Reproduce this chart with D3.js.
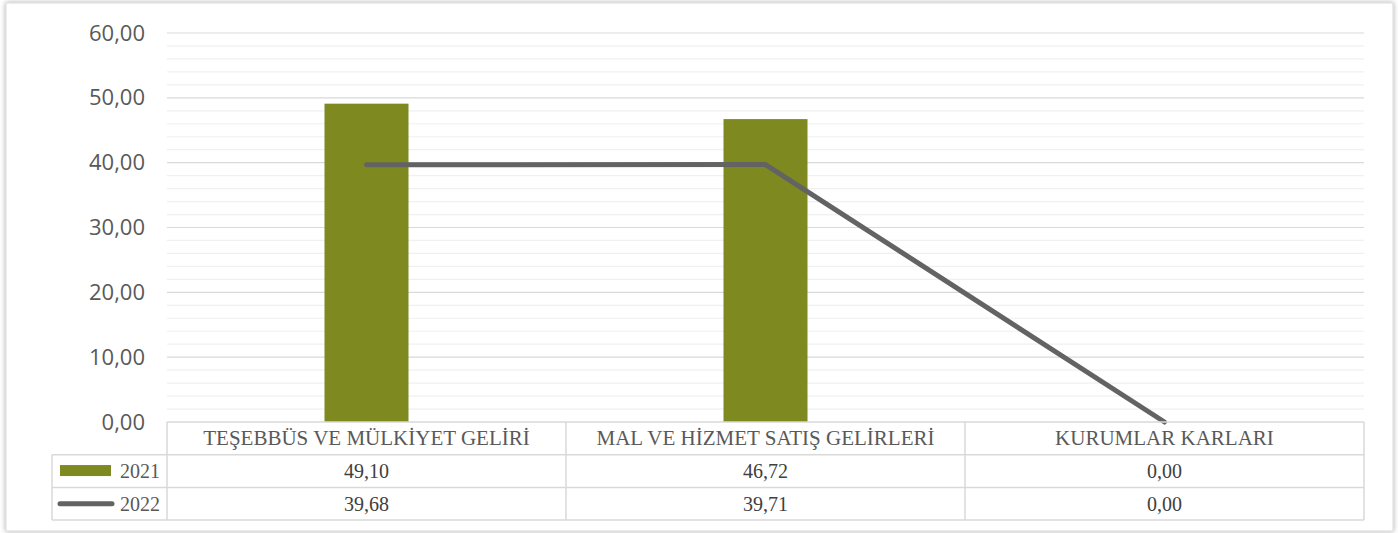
<!DOCTYPE html>
<html>
<head>
<meta charset="utf-8">
<script src="https://cdn.jsdelivr.net/npm/d3@7"></script>
<style>
  body { margin: 0; background: #fff; }
  svg { display: block; }
</style>
</head>
<body>
<div id="chart"></div>
<script>
const categories = ['TEŞEBBÜS VE MÜLKİYET GELİRİ', 'MAL VE HİZMET SATIŞ GELİRLERİ', 'KURUMLAR KARLARI'];
const values2021 = [49.10, 46.72, 0.00];
const values2022 = [39.68, 39.71, 0.00];
const seriesNames = ['2021', '2022'];
const yTicks = [0, 10, 20, 30, 40, 50, 60];

const fullWidth = 1398;
const fullHeight = 533;
const plot = { left: 167, right: 1364, top: 33, bottom: 422 };
const rowH = 32.7;
const barColor = '#7e891f';
const lineColor = '#636363';
const fmt = v => v.toFixed(2).replace('.', ',');

const svg = d3.select('#chart')
  .append('svg')
  .attr('width', fullWidth)
  .attr('height', fullHeight);

const defs = svg.append('defs');
const shadow = defs.append('filter').attr('id', 'shadow')
  .attr('x', '-2%').attr('y', '-2%').attr('width', '104%').attr('height', '104%');
shadow.append('feDropShadow')
  .attr('dx', 0).attr('dy', 0).attr('stdDeviation', 2.5)
  .attr('flood-color', '#000').attr('flood-opacity', 0.35);

// frame
svg.append('rect')
  .attr('x', 6).attr('y', 3)
  .attr('width', 1387).attr('height', 528)
  .attr('fill', '#fff')
  .attr('stroke', '#d9d9d9')
  .attr('filter', 'url(#shadow)');

const xScale = d3.scaleBand()
  .domain(categories)
  .range([plot.left, plot.right]);

const yScale = d3.scaleLinear()
  .domain([0, 60])
  .range([plot.bottom, plot.top]);

// minor grid
svg.append('g')
  .selectAll('line')
  .data(d3.range(0, 61, 2).filter(v => v % 10 !== 0))
  .enter()
  .append('line')
  .attr('x1', plot.left).attr('x2', plot.right)
  .attr('y1', d => yScale(d)).attr('y2', d => yScale(d))
  .attr('stroke', '#f0f0f0')
  .attr('stroke-width', 1.2);

// major grid
svg.append('g')
  .selectAll('line')
  .data(yTicks.filter(v => v > 0))
  .enter()
  .append('line')
  .attr('x1', plot.left).attr('x2', plot.right)
  .attr('y1', d => yScale(d)).attr('y2', d => yScale(d))
  .attr('stroke', '#d9d9d9')
  .attr('stroke-width', 1.2);

// y axis labels
const yAxis = d3.axisLeft(yScale)
  .tickValues(yTicks)
  .tickFormat(fmt)
  .tickSize(0)
  .tickPadding(22);

const yg = svg.append('g')
  .attr('transform', `translate(${plot.left}, 0)`)
  .call(yAxis);
yg.select('.domain').remove();
yg.selectAll('text')
  .attr('font-family', '"Open Sans", "Noto Sans", sans-serif')
  .attr('font-size', 22)
  .attr('fill', '#595959');

// bars
const barW = 84;
svg.append('g')
  .selectAll('rect')
  .data(values2021)
  .enter()
  .append('rect')
  .attr('x', (d, i) => xScale(categories[i]) + xScale.bandwidth() / 2 - barW / 2)
  .attr('y', d => yScale(d))
  .attr('width', barW)
  .attr('height', d => yScale(0) - yScale(d))
  .attr('fill', barColor);

// line
const line = d3.line()
  .x((d, i) => xScale(categories[i]) + xScale.bandwidth() / 2)
  .y(d => yScale(d));

svg.append('path')
  .datum(values2022)
  .attr('d', line)
  .attr('fill', 'none')
  .attr('stroke', lineColor)
  .attr('stroke-width', 5)
  .attr('stroke-linecap', 'round')
  .attr('stroke-linejoin', 'round');

// data table
const table = svg.append('g');
const tableLeft = 52;
const gridColor = '#d9d9d9';
const rows = [
  { name: seriesNames[0], values: values2021 },
  { name: seriesNames[1], values: values2022 }
];

// horizontal lines
[0, 1, 2, 3].forEach(r => {
  table.append('line')
    .attr('x1', r === 0 ? plot.left : tableLeft).attr('x2', plot.right)
    .attr('y1', plot.bottom + r * rowH).attr('y2', plot.bottom + r * rowH)
    .attr('stroke', gridColor).attr('stroke-width', 1.5);
});
// vertical lines
table.append('line')
  .attr('x1', tableLeft).attr('x2', tableLeft)
  .attr('y1', plot.bottom + rowH).attr('y2', plot.bottom + 3 * rowH)
  .attr('stroke', gridColor).attr('stroke-width', 1.5);
categories.forEach(c => {
  const x = xScale(c);
  table.append('line')
    .attr('x1', x).attr('x2', x)
    .attr('y1', plot.bottom).attr('y2', plot.bottom + 3 * rowH)
    .attr('stroke', gridColor).attr('stroke-width', 1.5);
});
table.append('line')
  .attr('x1', plot.right).attr('x2', plot.right)
  .attr('y1', plot.bottom).attr('y2', plot.bottom + 3 * rowH)
  .attr('stroke', gridColor).attr('stroke-width', 1.5);

const serif = '"Liberation Serif", "Times New Roman", serif';

// header
table.selectAll('text.head')
  .data(categories)
  .enter()
  .append('text')
  .attr('class', 'head')
  .attr('x', d => xScale(d) + xScale.bandwidth() / 2)
  .attr('y', plot.bottom + rowH / 2 + 7)
  .attr('text-anchor', 'middle')
  .attr('font-family', serif)
  .attr('font-size', 21)
  .attr('fill', '#595959')
  .text(d => d);

rows.forEach((row, r) => {
  const yMid = plot.bottom + (r + 1.5) * rowH;
  table.selectAll(`text.v${r}`)
    .data(row.values)
    .enter()
    .append('text')
    .attr('x', (d, i) => xScale(categories[i]) + xScale.bandwidth() / 2)
    .attr('y', yMid + 7)
    .attr('text-anchor', 'middle')
    .attr('font-family', serif)
    .attr('font-size', 20)
    .attr('fill', '#404040')
    .text(fmt);

  table.append('text')
    .attr('x', 160)
    .attr('y', yMid + 7)
    .attr('text-anchor', 'end')
    .attr('font-family', serif)
    .attr('font-size', 20)
    .attr('fill', '#595959')
    .text(row.name);

  if (r === 0) {
    table.append('rect')
      .attr('x', 60).attr('y', yMid - 6)
      .attr('width', 51).attr('height', 11)
      .attr('fill', barColor);
  } else {
    table.append('line')
      .attr('x1', 60).attr('x2', 112)
      .attr('y1', yMid).attr('y2', yMid)
      .attr('stroke', lineColor)
      .attr('stroke-width', 5)
      .attr('stroke-linecap', 'round');
  }
});
</script>
</body>
</html>
